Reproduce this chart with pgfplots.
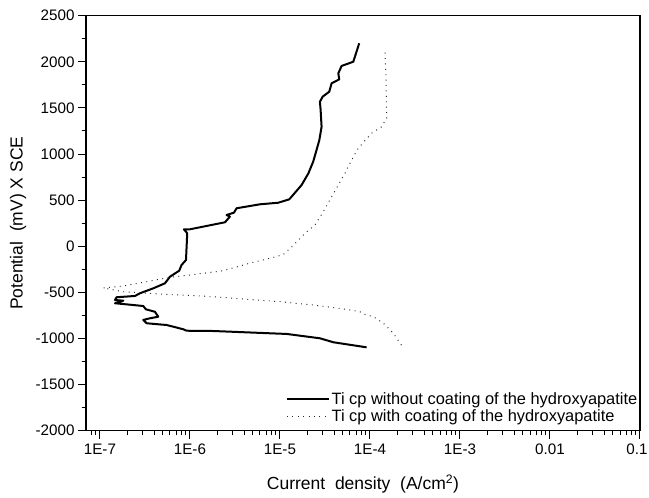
\documentclass[border=0pt]{standalone}
\usepackage{fontspec}
\setmainfont{Liberation Sans}
\usepackage{pgfplots}
\pgfplotsset{compat=1.18}
\begin{document}
\begin{tikzpicture}[x=1pt,y=1pt]
\useasboundingbox (0,0) rectangle (649,498);
\begin{axis}[
  at={(86pt,67.3pt)}, anchor=south west,
  scale only axis, width=554pt, height=415pt,
  xmode=log, xmin=7e-8, xmax=0.1, ymin=-2000, ymax=2500,
  xtick={1e-7,1e-6,1e-5,1e-4,1e-3,1e-2,1e-1},
  xticklabels={1E-7,1E-6,1E-5,1E-4,1E-3,0.01,\hspace*{-6pt}0.1},
  minor xtick={8e-8,9e-8,
    2e-7,3e-7,4e-7,5e-7,6e-7,7e-7,8e-7,9e-7,
    2e-6,3e-6,4e-6,5e-6,6e-6,7e-6,8e-6,9e-6,
    2e-5,3e-5,4e-5,5e-5,6e-5,7e-5,8e-5,9e-5,
    2e-4,3e-4,4e-4,5e-4,6e-4,7e-4,8e-4,9e-4,
    2e-3,3e-3,4e-3,5e-3,6e-3,7e-3,8e-3,9e-3,
    2e-2,3e-2,4e-2,5e-2,6e-2,7e-2,8e-2,9e-2},
  ytick={-2000,-1500,-1000,-500,0,500,1000,1500,2000,2500},
  yticklabels={-2000,-1500,-1000,-500,0,500,1000,1500,2000,2500},
  minor ytick={-1750,-1250,-750,-250,250,750,1250,1750,2250},
  tick pos=left, tick align=outside,
  major tick length=8pt, minor tick length=4.5pt,
  every tick/.style={black, line width=1pt},
  axis line style={line width=1.2pt},
  /pgf/number format/assume math mode=true,
  tick label style={font=\fontsize{15.2}{17}\selectfont},
  xticklabel style={yshift=-2pt},
  xlabel={Current\ \ density\ \ (A/cm\textsuperscript{2})},
  ylabel={Potential\ \ (mV) X SCE},
  xlabel style={font=\fontsize{17.5}{19}\selectfont, at={(axis description cs:0.5,0)}, anchor=base, yshift=-59pt},
  ylabel style={font=\fontsize{17.5}{19}\selectfont, at={(axis description cs:-0.1227,0.5)}, anchor=center},
  legend style={at={(axis description cs:1.0,0.012)}, anchor=south east, draw=none, fill=none,
    font=\fontsize{16.4}{18}\selectfont, row sep=0.5pt, inner sep=1pt,
    nodes={inner sep=1.5pt}},
  legend cell align=left,
  legend image code/.code={\draw[#1] (0pt,0pt) -- (42pt,0pt);},
]
\addplot[black, line width=2pt, line join=round] coordinates {
(7.60e-5,2201) (6.53e-5,2001) (4.84e-5,1955) (4.45e-5,1875) (4.56e-5,1810)
(3.75e-5,1767) (3.53e-5,1676) (2.98e-5,1622) (2.78e-5,1568) (2.83e-5,1478)
(2.90e-5,1296) (2.74e-5,1152) (2.55e-5,1044) (2.34e-5,917) (2.07e-5,791)
(1.74e-5,664) (1.27e-5,509) (9.57e-6,472) (6.00e-6,455) (3.30e-6,412)
(3.08e-6,364) (2.55e-6,339) (2.78e-6,321) (2.45e-6,260) (1.0e-6,184)
(8.57e-7,184) (9.33e-7,141) (9.18e-7,-5) (9.04e-7,-149) (8.07e-7,-203)
(7.60e-7,-265) (6.00e-7,-330) (5.27e-7,-402) (3.92e-7,-456) (2.78e-7,-510)
(2.45e-7,-539) (1.53e-7,-553) (1.47e-7,-583) (1.82e-7,-590) (1.47e-7,-618)
(2.34e-7,-637) (3.03e-7,-648) (3.24e-7,-684) (4.08e-7,-710) (4.45e-7,-764)
(3.60e-7,-781) (3.03e-7,-799) (3.30e-7,-835) (5.51e-7,-854) (8.43e-7,-900)
(9.18e-7,-916) (1.82e-6,-919) (1.19e-5,-951) (2.78e-5,-998) (3.92e-5,-1041)
(9.18e-5,-1096)
};
\addlegendentry{Ti cp without coating of the hydroxyapatite}
\addplot[black!85, line width=1pt, dash pattern=on 0.9pt off 4.5pt] coordinates {
(1.47e-4,2099) (1.51e-4,1803) (1.53e-4,1387) (1.35e-4,1296) (1.04e-4,1225)
(7.41e-5,1062) (6.25e-5,935) (5.27e-5,791) (4.45e-5,664) (3.75e-5,537)
(3.03e-5,375) (2.45e-5,231) (1.90e-5,141) (1.41e-5,10) (1.09e-5,-90)
(7.74e-6,-131) (5.0e-6,-175) (2.34e-6,-265) (1.0e-6,-312) (6.0e-7,-337)
(3.30e-7,-384) (1.82e-7,-431) (1.09e-7,-452)
(1.82e-7,-493) (3.30e-7,-510) (7.74e-7,-528) (1.82e-6,-547) (4.27e-6,-575)
(1.0e-5,-601) (2.34e-5,-637) (5.51e-5,-684) (7.74e-5,-710) (8.43e-5,-734)
(1.09e-4,-764) (1.41e-4,-835) (1.82e-4,-944) (2.25e-4,-1076)
};
\addlegendentry{Ti cp with coating of the hydroxyapatite}
\end{axis}
\end{tikzpicture}
\end{document}
